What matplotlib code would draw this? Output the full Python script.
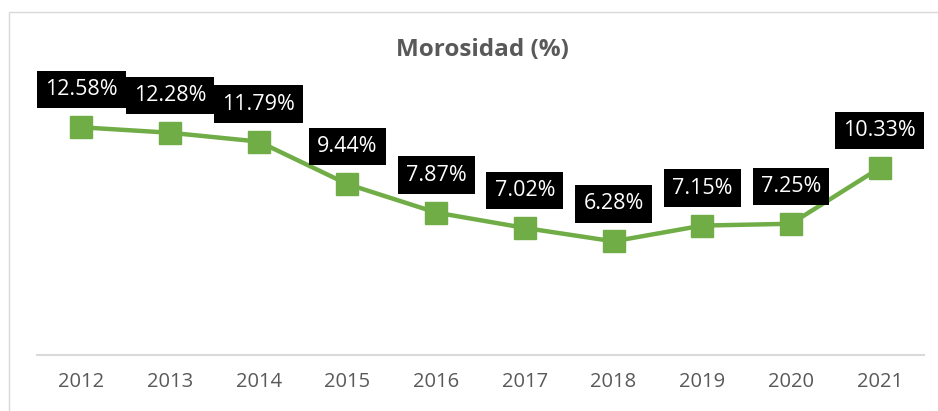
import matplotlib
matplotlib.use("Agg")
import matplotlib.pyplot as plt
from matplotlib.patches import Rectangle

years = ["2012", "2013", "2014", "2015", "2016", "2017", "2018", "2019", "2020", "2021"]
morosidad = [12.58, 12.28, 11.79, 9.44, 7.87, 7.02, 6.28, 7.15, 7.25, 10.33]
labels = ["12.58%", "12.28%", "11.79%", "9.44%", "7.87%", "7.02%", "6.28%", "7.15%", "7.25%", "10.33%"]
title = "Morosidad (%)"

W, H = 938, 411
fig = plt.figure(figsize=(W / 100, H / 100), dpi=100)
fig.patch.set_facecolor("white")

# chart border (partially visible)
fig.patches.append(Rectangle((9 / W, -0.1), 1.2, (H - 12) / H + 0.1, transform=fig.transFigure,
                             fill=False, edgecolor="#D9D9D9", linewidth=1.0))

ax = fig.add_axes([37 / W, 1 - 355 / H, (924 - 37) / W, (355 - 101.6) / H])
x = list(range(len(years)))
ax.plot(x, morosidad, color="#70AD47", linewidth=3.2, marker="s", markersize=16,
        markerfacecolor="#70AD47", markeredgecolor="#70AD47", solid_joinstyle="round", zorder=3)
ax.set_xlim(-0.5, len(years) - 0.5)
ax.set_ylim(0, 14)
ax.set_xticks(x)
ax.set_xticklabels(years, fontsize=14.5, color="#595959", family="Open Sans")
ax.tick_params(axis="x", length=0, pad=12)
ax.set_yticks([])
for s in ["top", "right", "left"]:
    ax.spines[s].set_visible(False)
ax.spines["bottom"].set_color("#D9D9D9")
ax.spines["bottom"].set_linewidth(1.5)
ax.patch.set_alpha(0)

for xi, v, lab in zip(x, morosidad, labels):
    ax.annotate(lab, (xi, v), xytext=(0, 27), textcoords="offset points",
                ha="center", va="center", fontsize=15.5, color="white", family="Open Sans",
                bbox=dict(boxstyle="square,pad=0.38", facecolor="black", edgecolor="none"),
                zorder=5, clip_on=False)

fig.text(482 / W, 1 - 50 / H, title, ha="center", va="center", fontsize=17.5,
         fontweight="bold", color="#595959", family="Open Sans")

fig.savefig("out.png", dpi=100)
